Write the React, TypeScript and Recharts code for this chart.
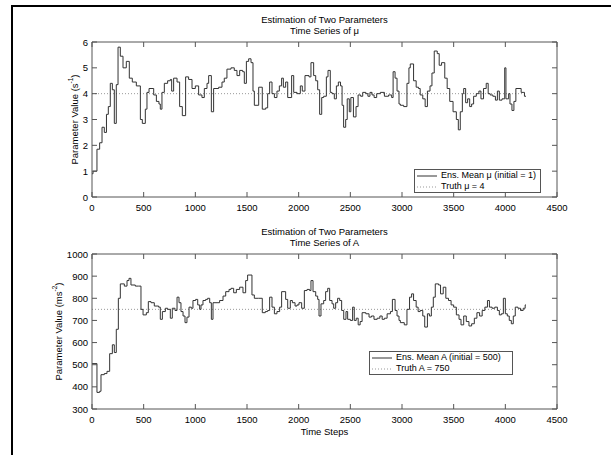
import React from 'react';
import { LineChart, Line, XAxis, YAxis, ReferenceLine, Label } from 'recharts';

// ---- data ----
const MU_T = [0, 10, 48, 74, 97, 119, 140, 158, 177, 197, 216, 235, 252, 274, 300, 332, 361, 390, 429, 468, 487, 516, 532, 552, 597, 623, 648, 661, 677, 700, 732, 758, 771, 790, 823, 848, 874, 906, 935, 968, 1000, 1032, 1064, 1087, 1113, 1129, 1155, 1177, 1226, 1258, 1280, 1306, 1345, 1377, 1403, 1429, 1458, 1474, 1494, 1516, 1539, 1558, 1571, 1613, 1648, 1681, 1700, 1719, 1742, 1765, 1790, 1813, 1835, 1852, 1874, 1894, 1932, 1952, 1984, 2016, 2035, 2061, 2100, 2119, 2145, 2165, 2184, 2203, 2223, 2242, 2268, 2284, 2306, 2323, 2345, 2365, 2384, 2405, 2420, 2435, 2455, 2470, 2490, 2505, 2530, 2555, 2575, 2600, 2620, 2650, 2670, 2690, 2710, 2730, 2755, 2790, 2830, 2870, 2900, 2914, 2933, 2952, 2971, 2984, 3016, 3048, 3067, 3080, 3112, 3137, 3160, 3176, 3201, 3224, 3246, 3271, 3290, 3312, 3341, 3360, 3383, 3414, 3437, 3462, 3494, 3526, 3545, 3564, 3584, 3597, 3616, 3635, 3655, 3674, 3693, 3719, 3744, 3764, 3789, 3815, 3834, 3853, 3879, 3904, 3923, 3942, 3968, 3994, 4006, 4032, 4045, 4064, 4083, 4102, 4153, 4172, 4185, 4200];
const MU_V = [0.9, 1.0, 1.85, 2.1, 2.7, 2.5, 3.2, 3.5, 4.4, 4.15, 2.85, 4.35, 5.8, 5.45, 5.0, 5.25, 4.6, 4.45, 4.3, 3.0, 2.85, 3.4, 4.05, 4.2, 3.95, 3.7, 3.6, 3.4, 4.05, 4.4, 4.5, 4.55, 4.1, 4.6, 4.45, 3.5, 3.15, 4.65, 4.55, 4.2, 4.3, 3.95, 3.85, 4.2, 4.4, 4.7, 3.3, 4.2, 4.25, 4.45, 4.6, 4.95, 5.0, 4.9, 4.7, 4.9, 4.85, 4.4, 5.25, 5.35, 5.2, 4.1, 3.55, 4.25, 3.4, 3.45, 4.0, 4.45, 4.0, 3.85, 4.1, 4.3, 4.6, 4.25, 4.45, 3.85, 4.7, 4.05, 4.0, 4.3, 4.1, 4.7, 4.65, 5.2, 4.7, 4.5, 4.15, 3.2, 3.85, 3.9, 4.65, 4.9, 4.05, 4.0, 3.8, 4.3, 4.45, 4.3, 3.55, 2.7, 3.0, 3.8, 3.3, 3.85, 3.1, 3.5, 3.95, 3.9, 4.05, 4.0, 3.9, 4.05, 3.95, 3.85, 4.0, 4.05, 3.9, 3.95, 3.85, 4.85, 4.6, 4.1, 3.6, 3.55, 3.5, 4.4, 5.0, 5.15, 4.5, 4.25, 4.2, 3.95, 3.8, 3.5, 4.1, 4.3, 4.8, 5.65, 5.55, 5.1, 5.2, 4.6, 4.2, 3.7, 3.3, 3.0, 2.6, 3.3, 4.0, 4.2, 3.65, 3.8, 3.5, 3.6, 3.9, 4.0, 4.1, 3.8, 4.2, 4.4, 4.0, 3.95, 3.9, 3.75, 4.1, 3.75, 3.8, 5.0, 3.8, 4.0, 3.6, 3.35, 3.7, 4.2, 4.05, 4.05, 3.9, 3.9];

const A_T = [0, 48, 74, 87, 119, 145, 171, 197, 216, 235, 255, 274, 313, 339, 358, 377, 419, 452, 474, 494, 526, 545, 571, 603, 645, 661, 681, 710, 732, 758, 777, 803, 823, 842, 861, 881, 900, 919, 939, 961, 977, 1003, 1023, 1042, 1055, 1074, 1100, 1119, 1139, 1155, 1171, 1210, 1235, 1268, 1294, 1326, 1345, 1371, 1397, 1429, 1461, 1487, 1506, 1548, 1571, 1613, 1648, 1677, 1700, 1719, 1742, 1765, 1790, 1816, 1835, 1874, 1894, 1919, 1939, 1965, 1984, 2003, 2029, 2055, 2081, 2106, 2119, 2139, 2165, 2184, 2197, 2216, 2242, 2261, 2281, 2300, 2323, 2339, 2358, 2377, 2397, 2416, 2436, 2458, 2474, 2500, 2522, 2538, 2557, 2576, 2595, 2614, 2650, 2681, 2704, 2729, 2760, 2786, 2808, 2830, 2856, 2888, 2907, 2933, 2952, 2971, 2984, 3022, 3048, 3073, 3093, 3112, 3137, 3156, 3176, 3201, 3220, 3246, 3265, 3284, 3303, 3322, 3354, 3373, 3399, 3424, 3450, 3475, 3500, 3526, 3552, 3571, 3597, 3622, 3648, 3674, 3700, 3725, 3751, 3776, 3802, 3827, 3846, 3872, 3898, 3923, 3942, 3961, 3981, 4000, 4019, 4038, 4058, 4077, 4096, 4122, 4147, 4173, 4192, 4200];
const A_V = [505, 375, 380, 455, 460, 470, 550, 590, 555, 660, 800, 865, 855, 880, 890, 860, 855, 855, 750, 725, 735, 785, 780, 765, 760, 705, 740, 755, 750, 710, 755, 745, 805, 780, 740, 720, 690, 715, 760, 755, 790, 795, 770, 750, 770, 790, 795, 800, 780, 705, 780, 780, 790, 810, 830, 840, 845, 825, 840, 850, 825, 880, 905, 815, 800, 800, 735, 740, 745, 805, 760, 730, 740, 760, 830, 795, 755, 790, 780, 765, 770, 780, 755, 835, 840, 835, 880, 830, 810, 795, 720, 775, 790, 830, 845, 790, 775, 755, 780, 800, 790, 745, 705, 740, 705, 700, 760, 700, 710, 680, 695, 735, 730, 715, 720, 705, 710, 720, 705, 710, 730, 740, 795, 745, 720, 700, 690, 680, 750, 805, 820, 790, 760, 740, 745, 720, 670, 730, 720, 760, 805, 865, 860, 820, 850, 800, 790, 770, 760, 725, 705, 680, 720, 695, 675, 685, 710, 735, 720, 745, 760, 790, 760, 755, 760, 745, 725, 730, 800, 730, 720, 700, 685, 720, 760, 755, 745, 755, 770, 770];

const X_TICKS = [0, 500, 1000, 1500, 2000, 2500, 3000, 3500, 4000, 4500];
const MU_TICKS = [0, 1, 2, 3, 4, 5, 6];
const A_TICKS = [300, 400, 500, 600, 700, 800, 900, 1000];
const MU_TRUTH = 4;
const A_TRUTH = 750;
const T_END = 4200;

const muData = MU_T.map((t, i) => ({ t, v: MU_V[i] }));
const aData = A_T.map((t, i) => ({ t, v: A_V[i] }));

// ---- styling ----
const FONT = '"Liberation Sans", Arial, sans-serif';
const FS = 9.5;
const AX = '#555';
const SERIES = '#333';
const W = 611;
const PLOT_TOP = 42;
const PLOT_RIGHT = 557;
const CH_H = 230;

const XTick = (props: any) => {
  const { x, y, payload } = props;
  return (
    <g>
      <line x1={x} x2={x} y1={y} y2={y - 5} stroke={AX} />
      <line x1={x} x2={x} y1={PLOT_TOP} y2={PLOT_TOP + 5} stroke={AX} />
      <text x={x} y={y + 10} textAnchor="middle" dominantBaseline="central" fontSize={FS} fontFamily={FONT} fill="#000">
        {payload.value}
      </text>
    </g>
  );
};

const YTick = (props: any) => {
  const { x, y, payload } = props;
  return (
    <g>
      <line x1={x} x2={x + 5} y1={y} y2={y} stroke={AX} />
      <line x1={PLOT_RIGHT - 5} x2={PLOT_RIGHT} y1={y} y2={y} stroke={AX} />
      <text x={x - 4} y={y} textAnchor="end" dominantBaseline="central" fontSize={FS} fontFamily={FONT} fill="#000">
        {payload.value}
      </text>
    </g>
  );
};

const makeYLabel = (cx: number, unit: string, sup: string) => (p: any) => {
  const vb = p.viewBox || {};
  const cy = (vb.y || 0) + (vb.height || 0) / 2;
  return (
    <text x={cx} y={cy} transform={`rotate(-90, ${cx}, ${cy})`} textAnchor="middle" dominantBaseline="central" fontSize={FS} fontFamily={FONT} fill="#000">
      {`Parameter Value (${unit}`}
      <tspan dy={-4} fontSize={6.5}>{sup}</tspan>
      <tspan dy={4}>)</tspan>
    </text>
  );
};

const LegendBox = ({ left, top, width, lines }: { left: number; top: number; width: number; lines: string[] }) => (
  <div
    style={{
      position: 'absolute', left, top, width, height: 24, border: `1px solid ${AX}`, background: '#fff',
      fontFamily: FONT, fontSize: 9, color: '#000', boxSizing: 'border-box', lineHeight: '11px', paddingTop: 0,
      whiteSpace: 'nowrap', overflow: 'hidden',
    }}
  >
    <div style={{ display: 'flex', alignItems: 'center', height: 11 }}>
      <svg width={24} height={10} style={{ marginLeft: 2, flex: 'none' }}><line x1={0} x2={20} y1={5} y2={5} stroke={SERIES} /></svg>
      <span>{lines[0]}</span>
    </div>
    <div style={{ display: 'flex', alignItems: 'center', height: 11 }}>
      <svg width={24} height={10} style={{ marginLeft: 2, flex: 'none' }}><line x1={0} x2={20} y1={5} y2={5} stroke="#999" strokeDasharray="1 2" /></svg>
      <span>{lines[1]}</span>
    </div>
  </div>
);

const Title = ({ top, second }: { top: number; second: string }) => (
  <div style={{ position: 'absolute', left: 0, top, width: 92 + PLOT_RIGHT, textAlign: 'center', fontFamily: FONT, fontSize: FS, lineHeight: '10.5px', color: '#000' }}>
    <div>Estimation of Two Parameters</div>
    <div>{second}</div>
  </div>
);

const Panel = ({ data, domain, ticks, truth, yLabel }: any) => (
  <LineChart width={W} height={CH_H} data={data} margin={{ top: PLOT_TOP, right: W - PLOT_RIGHT, bottom: 13, left: 52 }}>
    <XAxis
      type="number" dataKey="t" domain={[0, 4500]} ticks={X_TICKS} interval={0}
      tickLine={false} tickSize={0} tickMargin={0} height={20} axisLine={{ stroke: AX }} tick={<XTick />}
    />
    <YAxis
      type="number" domain={domain} ticks={ticks} interval={0} width={40}
      tickLine={false} tickSize={0} tickMargin={0} axisLine={{ stroke: AX }} tick={<YTick />}
    >
      <Label content={yLabel} />
    </YAxis>
    <ReferenceLine y={domain[1]} stroke={AX} />
    <ReferenceLine x={4500} stroke={AX} />
    <ReferenceLine segment={[{ x: 0, y: truth }, { x: T_END, y: truth }]} stroke="#999" strokeDasharray="1 2" />
    <Line type="stepAfter" dataKey="v" stroke={SERIES} strokeWidth={1} dot={false} isAnimationActive={false} />
  </LineChart>
);

export default function App() {
  return (
    <div style={{ position: 'fixed', left: 0, top: 0, width: W, height: 455, background: '#fff', overflow: 'hidden' }}>
      <div style={{ position: 'absolute', left: 11, top: 5, width: 700, height: 500, borderLeft: '2px solid #000', borderTop: '2px solid #000' }} />
      <Title top={15} second="Time Series of μ" />
      <Title top={227} second="Time Series of A" />
      <div style={{ position: 'absolute', left: 0, top: 0 }}>
        <Panel data={muData} domain={[0, 6]} ticks={MU_TICKS} truth={MU_TRUTH} yLabel={makeYLabel(74, 's', '-1')} />
      </div>
      <div style={{ position: 'absolute', left: 0, top: 212 }}>
        <Panel data={aData} domain={[300, 1000]} ticks={A_TICKS} truth={A_TRUTH} yLabel={makeYLabel(58, 'ms', '-2')} />
      </div>
      <LegendBox left={414} top={169} width={127} lines={['Ens. Mean μ (initial = 1)', 'Truth μ = 4']} />
      <LegendBox left={369} top={351} width={144} lines={['Ens. Mean A (initial = 500)', 'Truth A = 750']} />
      <div style={{ position: 'absolute', left: 0, top: 426, width: 92 + PLOT_RIGHT, textAlign: 'center', fontFamily: FONT, fontSize: FS, color: '#000' }}>
        Time Steps
      </div>
    </div>
  );
}
